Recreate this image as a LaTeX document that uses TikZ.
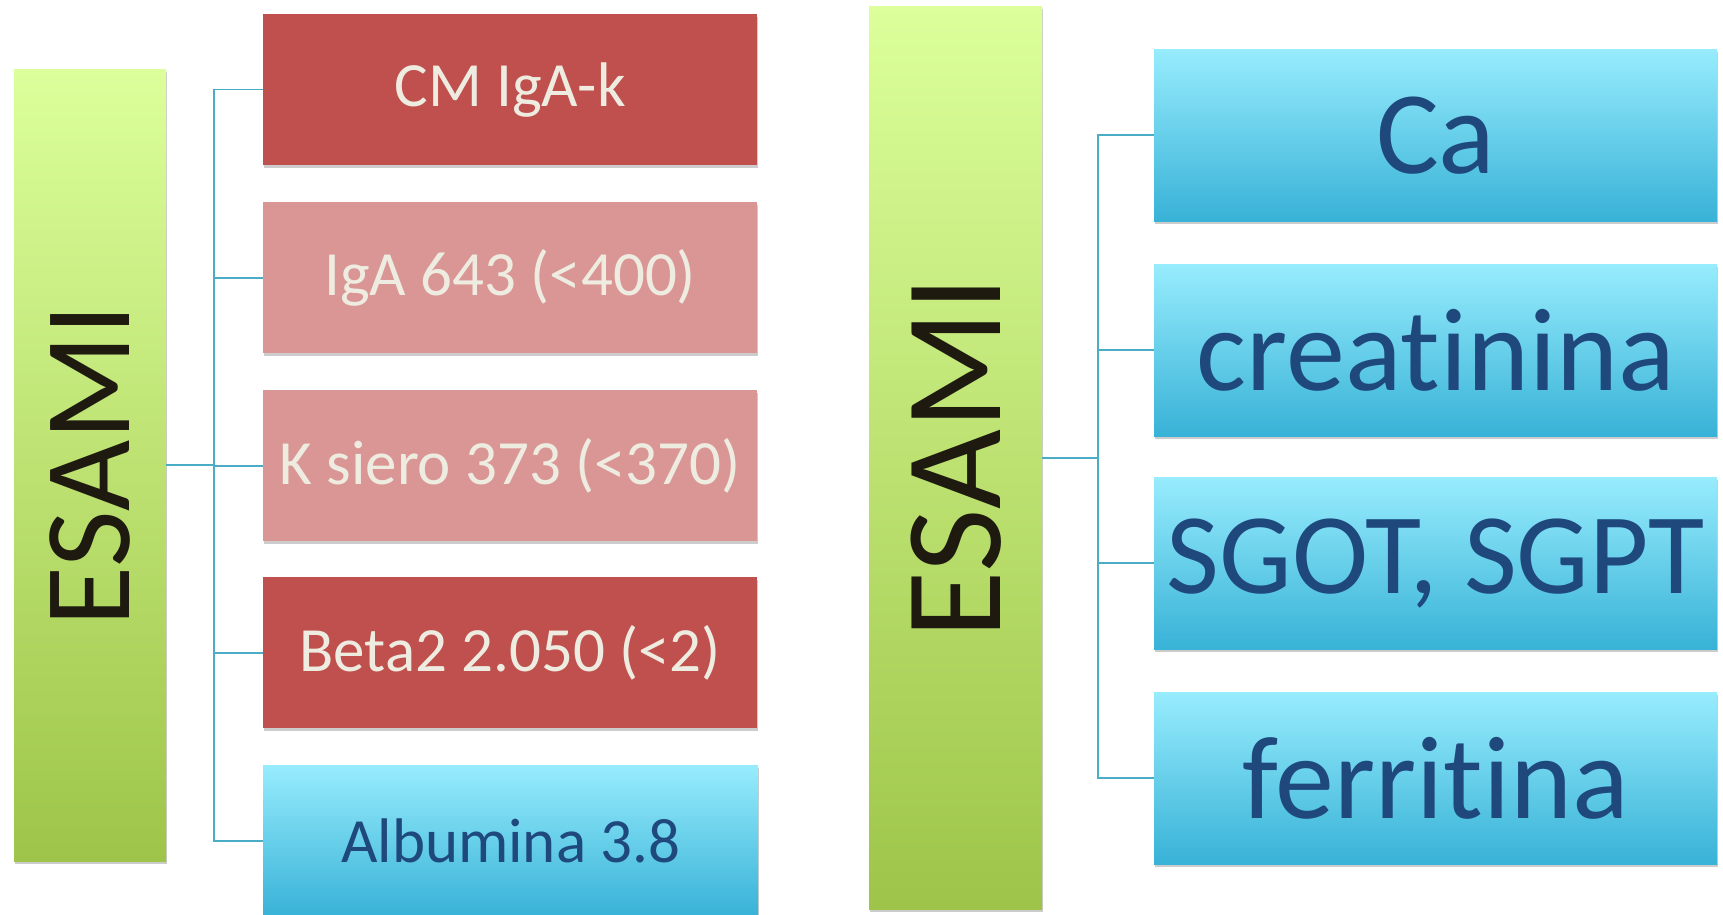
\documentclass[tikz,border=0pt]{standalone}
\usepackage{fontspec}
\setmainfont{Carlito}[Ligatures=NoCommon]
\usetikzlibrary{shadows}
\definecolor{darkred}{HTML}{C0504D}
\definecolor{lightred}{HTML}{D99694}
\definecolor{cream}{HTML}{EEECE1}
\definecolor{bluetop}{HTML}{97ECFD}
\definecolor{bluebot}{HTML}{38B2D7}
\definecolor{greentop}{HTML}{DCFF9B}
\definecolor{greenbot}{HTML}{9EC549}
\definecolor{navy}{HTML}{1F497D}
\definecolor{conn}{HTML}{4BACC6}
\definecolor{esamitext}{HTML}{1E1A10}
\tikzset{
  box/.style={rectangle, inner sep=0pt, anchor=north west,
    drop shadow={shadow xshift=1pt, shadow yshift=-3pt, opacity=0.2, fill=black}},
  redbox/.style={box, fill=darkred, text=cream, font=\fontsize{63}{70}\selectfont},
  pinkbox/.style={box, fill=lightred, text=cream, font=\fontsize{63}{70}\selectfont},
  bluebox/.style={box, top color=bluetop, bottom color=bluebot, text=navy},
  greenbox/.style={box, top color=greentop, bottom color=greenbot},
  connector/.style={draw=conn, line width=1.6pt}
}
\begin{document}
\begin{tikzpicture}[x=1pt, y=-1pt]
\useasboundingbox (0,0) rectangle (1723,915);
% left group
\node[greenbox, minimum width=152pt, minimum height=792pt] (g1) at (14,69) {};
\node[rotate=90, text=esamitext, font=\fontsize{123}{130}\selectfont] (e1) at (g1.center) {ESAMI};
\node[redbox, minimum width=494pt, minimum height=151pt] (b1) at (263,14) {CM IgA-k};
\node[pinkbox, minimum width=494pt, minimum height=151pt] (b2) at (263,202) {IgA 643 (<400)};
\node[pinkbox, minimum width=494pt, minimum height=151pt] (b3) at (263,390) {K siero 373 (<370)};
\node[redbox, minimum width=494pt, minimum height=151pt] (b4) at (263,577) {Beta2 2.050 (<2)};
\node[bluebox, minimum width=495pt, minimum height=151pt, font=\fontsize{63}{70}\selectfont] (b5) at (263,765) {Albumina 3.8};
\coordinate (t1x) at (214,0);
\coordinate (t1) at (g1.east -| t1x);
\draw[connector] (g1.east) -- (t1);
\foreach \b in {b1,b2,b3,b4,b5} \draw[connector] (t1) |- (\b.west);
% right group
\node[greenbox, minimum width=173pt, minimum height=903pt] (g2) at (869,6) {};
\node[rotate=90, text=esamitext, font=\fontsize{138}{145}\selectfont] (e2) at (g2.center) {ESAMI};
\node[bluebox, minimum width=563pt, minimum height=172pt, font=\fontsize{118}{125}\selectfont] (c1) at (1154,49) {Ca};
\node[bluebox, minimum width=563pt, minimum height=172pt, font=\fontsize{118}{125}\selectfont] (c2) at (1154,264) {creatinina};
\node[bluebox, minimum width=563pt, minimum height=172pt, font=\fontsize{115}{125}\selectfont] (c3) at (1154,477) {SGOT, SGPT};
\node[bluebox, minimum width=563pt, minimum height=172pt, font=\fontsize{118}{125}\selectfont] (c4) at (1154,692) {ferritina};
\coordinate (t2x) at (1098,0);
\coordinate (t2) at (g2.east -| t2x);
\draw[connector] (g2.east) -- (t2);
\foreach \b in {c1,c2,c3,c4} \draw[connector] (t2) |- (\b.west);
\end{tikzpicture}
\end{document}
